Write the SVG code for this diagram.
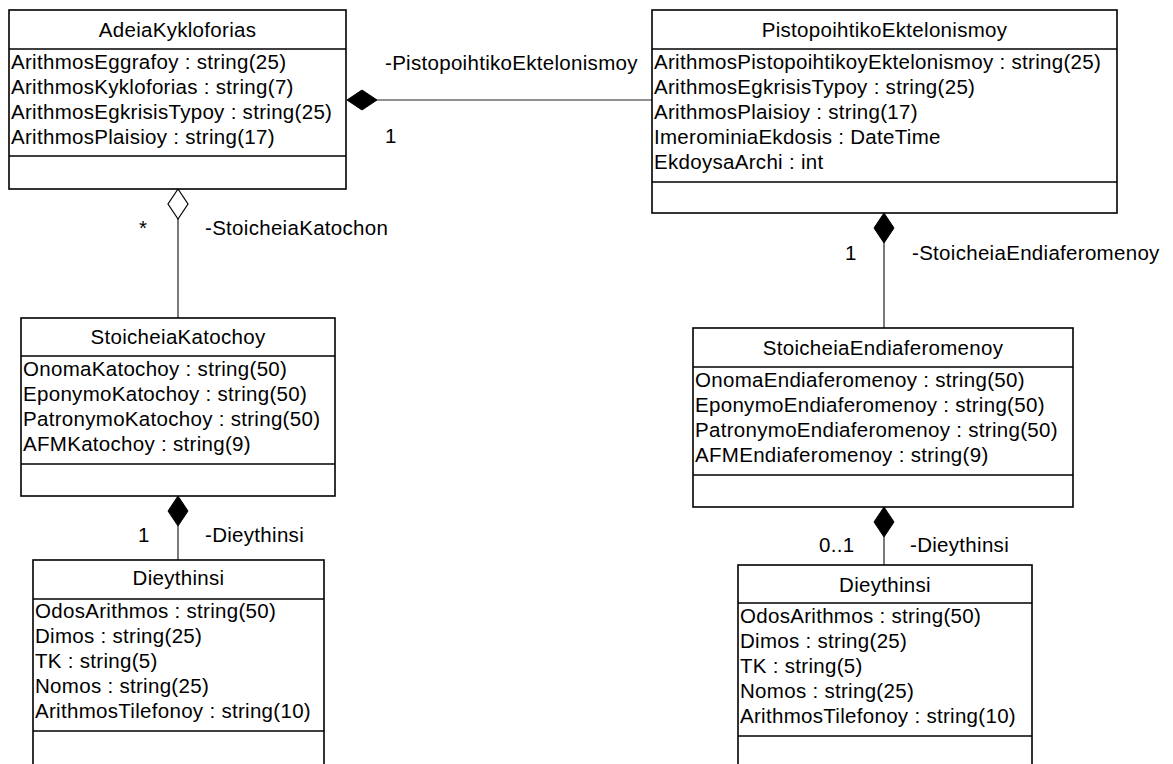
<svg xmlns="http://www.w3.org/2000/svg" width="1173" height="764" viewBox="0 0 1173 764">
  <style>
    .box { fill: #ffffff; stroke: #000000; stroke-width: 1.6; }
    .sep { stroke: #000000; stroke-width: 1.6; }
    .t { font-family: "Liberation Sans", Arial, sans-serif; font-size: 20.5px; letter-spacing: 0.3px; fill: #000000; }
    .title { text-anchor: middle; }
    .edge { stroke: #222222; stroke-width: 1.2; fill: none; }
    .comp { fill: #000000; stroke: #000000; stroke-width: 1; }
    .aggr { fill: #ffffff; stroke: #000000; stroke-width: 1.2; }
  </style>
  <rect width="1173" height="764" fill="#ffffff"/>

  <!-- associations -->
  <g id="connectors">
    <!-- AdeiaKykloforias <>— PistopoihtikoEktelonismoy -->
    <line class="edge" x1="377" y1="100" x2="652" y2="100"/>
    <polygon class="comp" points="347,100 362,90 377,100 362,110"/>
    <text class="t" x="385" y="70">-PistopoihtikoEktelonismoy</text>
    <text class="t" x="385" y="143">1</text>

    <!-- AdeiaKykloforias <>— StoicheiaKatochoy (aggregation) -->
    <line class="edge" x1="178" y1="219" x2="178" y2="318"/>
    <polygon class="aggr" points="178,189 188,204 178,219 168,204"/>
    <text class="t" x="139" y="235">*</text>
    <text class="t" x="205" y="235">-StoicheiaKatochon</text>

    <!-- StoicheiaKatochoy <>— Dieythinsi -->
    <line class="edge" x1="178" y1="526" x2="178" y2="560"/>
    <polygon class="comp" points="178,496 188,511 178,526 168,511"/>
    <text class="t" x="138" y="542">1</text>
    <text class="t" x="205" y="542">-Dieythinsi</text>

    <!-- PistopoihtikoEktelonismoy <>— StoicheiaEndiaferomenoy -->
    <line class="edge" x1="884" y1="243" x2="884" y2="328"/>
    <polygon class="comp" points="884,213 894,228 884,243 874,228"/>
    <text class="t" x="845" y="260">1</text>
    <text class="t" x="912" y="260">-StoicheiaEndiaferomenoy</text>

    <!-- StoicheiaEndiaferomenoy <>— Dieythinsi -->
    <line class="edge" x1="884" y1="537" x2="884" y2="565"/>
    <polygon class="comp" points="884,507 894,522 884,537 874,522"/>
    <text class="t" x="819" y="552">0..1</text>
    <text class="t" x="910" y="552">-Dieythinsi</text>
  </g>

  <!-- AdeiaKykloforias -->
  <g id="AdeiaKykloforias">
    <rect class="box" x="9" y="10" width="337" height="179"/>
    <line class="sep" x1="9" y1="49" x2="346" y2="49"/>
    <line class="sep" x1="9" y1="156" x2="346" y2="156"/>
    <text class="t title" x="177.5" y="37">AdeiaKykloforias</text>
    <text class="t" x="11" y="69">ArithmosEggrafoy : string(25)</text>
    <text class="t" x="11" y="94">ArithmosKykloforias : string(7)</text>
    <text class="t" x="11" y="119">ArithmosEgkrisisTypoy : string(25)</text>
    <text class="t" x="11" y="144">ArithmosPlaisioy : string(17)</text>
  </g>

  <!-- PistopoihtikoEktelonismoy -->
  <g id="PistopoihtikoEktelonismoy">
    <rect class="box" x="652" y="10" width="465" height="203"/>
    <line class="sep" x1="652" y1="49" x2="1117" y2="49"/>
    <line class="sep" x1="652" y1="182" x2="1117" y2="182"/>
    <text class="t title" x="884.5" y="37">PistopoihtikoEktelonismoy</text>
    <text class="t" x="654" y="69">ArithmosPistopoihtikoyEktelonismoy : string(25)</text>
    <text class="t" x="654" y="94">ArithmosEgkrisisTypoy : string(25)</text>
    <text class="t" x="654" y="119">ArithmosPlaisioy : string(17)</text>
    <text class="t" x="654" y="144">ImerominiaEkdosis : DateTime</text>
    <text class="t" x="654" y="169">EkdoysaArchi : int</text>
  </g>

  <!-- StoicheiaKatochoy -->
  <g id="StoicheiaKatochoy">
    <rect class="box" x="21" y="318" width="314" height="178"/>
    <line class="sep" x1="21" y1="356" x2="335" y2="356"/>
    <line class="sep" x1="21" y1="464" x2="335" y2="464"/>
    <text class="t title" x="178" y="344">StoicheiaKatochoy</text>
    <text class="t" x="23" y="376">OnomaKatochoy : string(50)</text>
    <text class="t" x="23" y="401">EponymoKatochoy : string(50)</text>
    <text class="t" x="23" y="426">PatronymoKatochoy : string(50)</text>
    <text class="t" x="23" y="451">AFMKatochoy : string(9)</text>
  </g>

  <!-- StoicheiaEndiaferomenoy -->
  <g id="StoicheiaEndiaferomenoy">
    <rect class="box" x="693" y="328" width="380" height="179"/>
    <line class="sep" x1="693" y1="367" x2="1073" y2="367"/>
    <line class="sep" x1="693" y1="475" x2="1073" y2="475"/>
    <text class="t title" x="883" y="355">StoicheiaEndiaferomenoy</text>
    <text class="t" x="695" y="387">OnomaEndiaferomenoy : string(50)</text>
    <text class="t" x="695" y="412">EponymoEndiaferomenoy : string(50)</text>
    <text class="t" x="695" y="437">PatronymoEndiaferomenoy : string(50)</text>
    <text class="t" x="695" y="462">AFMEndiaferomenoy : string(9)</text>
  </g>

  <!-- Dieythinsi (owner details) -->
  <g id="Dieythinsi-Katochoy">
    <rect class="box" x="33" y="560" width="291" height="208"/>
    <line class="sep" x1="33" y1="599" x2="324" y2="599"/>
    <line class="sep" x1="33" y1="731" x2="324" y2="731"/>
    <text class="t title" x="178.5" y="585">Dieythinsi</text>
    <text class="t" x="35" y="618">OdosArithmos : string(50)</text>
    <text class="t" x="35" y="643">Dimos : string(25)</text>
    <text class="t" x="35" y="668">TK : string(5)</text>
    <text class="t" x="35" y="693">Nomos : string(25)</text>
    <text class="t" x="35" y="718">ArithmosTilefonoy : string(10)</text>
  </g>

  <!-- Dieythinsi (interested party details) -->
  <g id="Dieythinsi-Endiaferomenoy">
    <rect class="box" x="738" y="565" width="294" height="208"/>
    <line class="sep" x1="738" y1="603" x2="1032" y2="603"/>
    <line class="sep" x1="738" y1="736" x2="1032" y2="736"/>
    <text class="t title" x="885" y="592">Dieythinsi</text>
    <text class="t" x="740" y="623">OdosArithmos : string(50)</text>
    <text class="t" x="740" y="648">Dimos : string(25)</text>
    <text class="t" x="740" y="673">TK : string(5)</text>
    <text class="t" x="740" y="698">Nomos : string(25)</text>
    <text class="t" x="740" y="723">ArithmosTilefonoy : string(10)</text>
  </g>
</svg>
